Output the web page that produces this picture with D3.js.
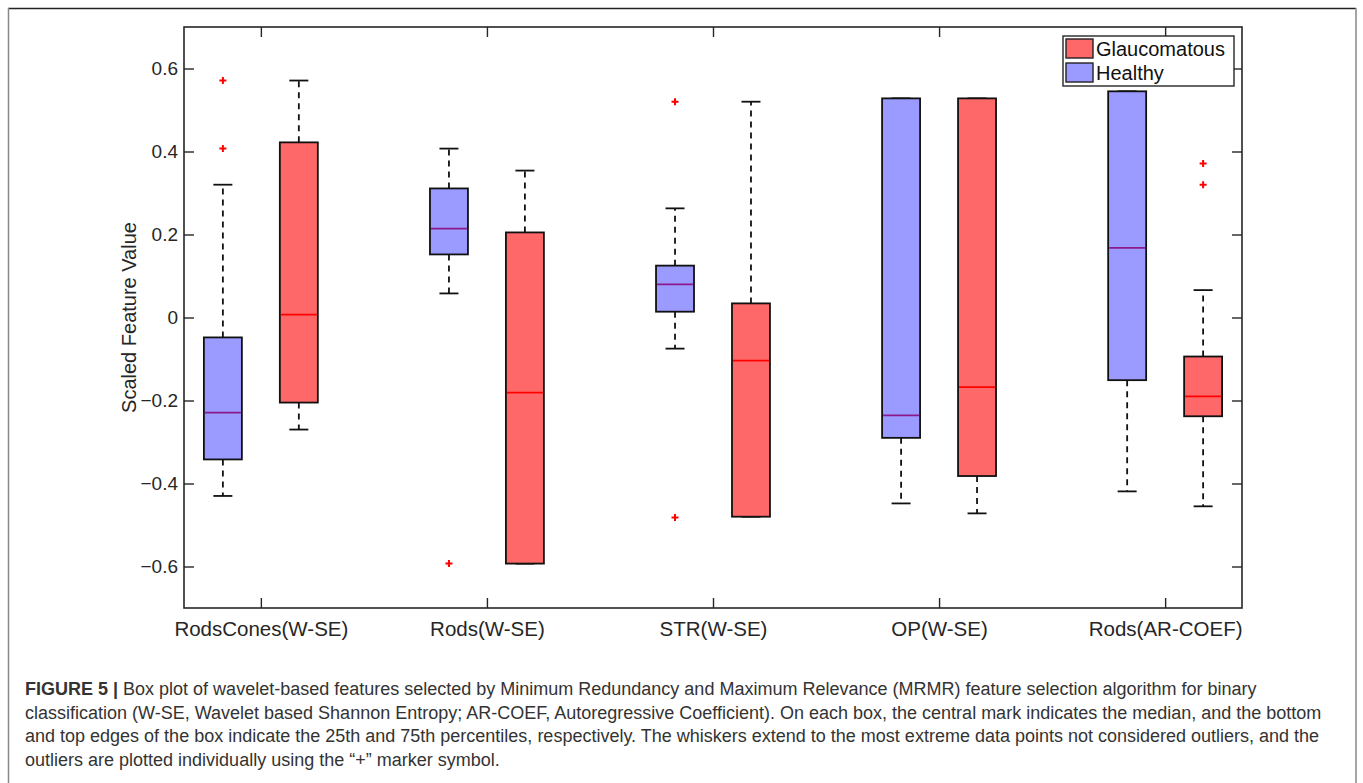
<!DOCTYPE html>
<html>
<meta charset="utf-8">
<head>
<script src="https://d3js.org/d3.v7.min.js"></script>
<style>
  body { margin: 0; background: #fff; }
  svg text { font-family: "Liberation Sans", Arial, sans-serif; }
</style>
</head>
<body>
<div id="chart"></div>
<script>

// categories and tick labels
var categories = ["RodsCones(W-SE)", "Rods(W-SE)", "STR(W-SE)", "OP(W-SE)", "Rods(AR-COEF)"];
var yTicks = [-0.6, -0.4, -0.2, 0, 0.2, 0.4, 0.6];

// Healthy box stats
var healthyLow    = [-0.43, 0.058, -0.075, -0.448, -0.419];
var healthyQ1     = [-0.342, 0.152, 0.014, -0.29, -0.151];
var healthyMedian = [-0.229, 0.214, 0.08, -0.236, 0.168];
var healthyQ3     = [-0.048, 0.311, 0.125, 0.528, 0.545];
var healthyHigh   = [0.32, 0.407, 0.263, 0.528, 0.545];
var healthyOut    = [[0.571, 0.407], [-0.593], [0.52, -0.482], [], []];

// Glaucomatous box stats
var glaucLow    = [-0.27, -0.593, -0.48, -0.472, -0.455];
var glaucQ1     = [-0.205, -0.593, -0.48, -0.382, -0.238];
var glaucMedian = [0.007, -0.181, -0.104, -0.168, -0.19];
var glaucQ3     = [0.422, 0.205, 0.034, 0.528, -0.094];
var glaucHigh   = [0.571, 0.354, 0.52, 0.528, 0.066];
var glaucOut    = [[], [], [], [], [0.371, 0.32]];

var W = 1363, H = 783;
var plot = {left: 184, right: 1242, top: 27, bottom: 608};
var axisColor = "#262626";

var svg = d3.select("#chart").append("svg")
    .attr("width", W).attr("height", H);

// outer frame of the figure
svg.append("line").attr("x1", 8).attr("x2", 1356).attr("y1", 8.5).attr("y2", 8.5)
    .attr("stroke", "#222").attr("stroke-width", 1.5);
svg.append("line").attr("x1", 8.5).attr("x2", 8.5).attr("y1", 8).attr("y2", H)
    .attr("stroke", "#888").attr("stroke-width", 1.5);
svg.append("line").attr("x1", 1356).attr("x2", 1356).attr("y1", 8).attr("y2", H)
    .attr("stroke", "#888").attr("stroke-width", 1.5);

var x = d3.scaleLinear().domain([0.66, 5.34]).range([plot.left, plot.right]);
var y = d3.scaleLinear().domain([-0.7, 0.7]).range([plot.bottom, plot.top]);

var offset = 0.168, boxW = 0.168;

// build box list from the arrays
var boxes = [];
categories.forEach(function(c, i) {
  boxes.push({pos: i + 1 - offset, low: healthyLow[i], q1: healthyQ1[i], med: healthyMedian[i],
              q3: healthyQ3[i], high: healthyHigh[i], out: healthyOut[i],
              fill: "#9b9bff", medColor: "#8b1a8b"});
  boxes.push({pos: i + 1 + offset, low: glaucLow[i], q1: glaucQ1[i], med: glaucMedian[i],
              q3: glaucQ3[i], high: glaucHigh[i], out: glaucOut[i],
              fill: "#ff6868", medColor: "#ff0000"});
});

var g = svg.append("g");
var bw = x(boxW) - x(0);
var capW = bw / 2;

var b = g.selectAll("g.box").data(boxes).enter().append("g").attr("class", "box");

// whiskers (dashed)
b.append("line")
    .attr("x1", function(d) { return x(d.pos); }).attr("x2", function(d) { return x(d.pos); })
    .attr("y1", function(d) { return y(d.q3); }).attr("y2", function(d) { return y(d.high); })
    .attr("stroke", "#111").attr("stroke-width", 1.8).attr("stroke-dasharray", "6,5");
b.append("line")
    .attr("x1", function(d) { return x(d.pos); }).attr("x2", function(d) { return x(d.pos); })
    .attr("y1", function(d) { return y(d.q1); }).attr("y2", function(d) { return y(d.low); })
    .attr("stroke", "#111").attr("stroke-width", 1.8).attr("stroke-dasharray", "6,5");
// caps
b.append("line")
    .attr("x1", function(d) { return x(d.pos) - capW / 2; }).attr("x2", function(d) { return x(d.pos) + capW / 2; })
    .attr("y1", function(d) { return y(d.high); }).attr("y2", function(d) { return y(d.high); })
    .attr("stroke", "#111").attr("stroke-width", 1.8);
b.append("line")
    .attr("x1", function(d) { return x(d.pos) - capW / 2; }).attr("x2", function(d) { return x(d.pos) + capW / 2; })
    .attr("y1", function(d) { return y(d.low); }).attr("y2", function(d) { return y(d.low); })
    .attr("stroke", "#111").attr("stroke-width", 1.8);

// box
b.append("rect")
    .attr("x", function(d) { return x(d.pos) - bw / 2; })
    .attr("y", function(d) { return y(d.q3); })
    .attr("width", bw)
    .attr("height", function(d) { return y(d.q1) - y(d.q3); })
    .attr("fill", function(d) { return d.fill; })
    .attr("stroke", "#111").attr("stroke-width", 1.8);

// median
b.append("line")
    .attr("x1", function(d) { return x(d.pos) - bw / 2 + 1; }).attr("x2", function(d) { return x(d.pos) + bw / 2 - 1; })
    .attr("y1", function(d) { return y(d.med); }).attr("y2", function(d) { return y(d.med); })
    .attr("stroke", function(d) { return d.medColor; }).attr("stroke-width", 1.8);

// outliers as "+"
b.selectAll("path.out").data(function(d) { return d.out.map(function(v) { return {pos: d.pos, v: v}; }); })
  .enter().append("path").attr("class", "out")
    .attr("d", function(d) {
      var cx = x(d.pos), cy = y(d.v), r = 3.5;
      return "M" + (cx - r) + "," + cy + "H" + (cx + r) + "M" + cx + "," + (cy - r) + "V" + (cy + r);
    })
    .attr("stroke", "#ff0000").attr("stroke-width", 2);

// axes (MATLAB style, ticks inside, box on)
var tickLen = 10;
var xTickVals = categories.map(function(c, i) { return i + 1; });

svg.append("g").attr("transform", "translate(" + plot.left + ",0)")
    .call(d3.axisLeft(y).tickValues(yTicks).tickSize(-tickLen).tickPadding(6)
      .tickFormat(function(d) { return d === 0 ? "0" : d3.format(".1f")(d); }))
    .call(function(a) {
      a.select(".domain").remove();
      a.selectAll("line").attr("stroke", axisColor).attr("stroke-width", 1.4);
      a.selectAll("text").attr("fill", axisColor).attr("font-size", 19);
    });
svg.append("g").attr("transform", "translate(" + plot.right + ",0)")
    .call(d3.axisRight(y).tickValues(yTicks).tickSize(-tickLen).tickFormat(""))
    .call(function(a) {
      a.select(".domain").remove();
      a.selectAll("line").attr("stroke", axisColor).attr("stroke-width", 1.4);
    });
svg.append("g").attr("transform", "translate(0," + plot.bottom + ")")
    .call(d3.axisBottom(x).tickValues(xTickVals).tickSize(-tickLen).tickPadding(13)
      .tickFormat(function(d) { return categories[d - 1]; }))
    .call(function(a) {
      a.select(".domain").remove();
      a.selectAll("line").attr("stroke", axisColor).attr("stroke-width", 1.4);
      a.selectAll("text").attr("fill", axisColor).attr("font-size", 20.5);
    });
svg.append("g").attr("transform", "translate(0," + plot.top + ")")
    .call(d3.axisTop(x).tickValues(xTickVals).tickSize(-tickLen).tickFormat(""))
    .call(function(a) {
      a.select(".domain").remove();
      a.selectAll("line").attr("stroke", axisColor).attr("stroke-width", 1.4);
    });
svg.append("rect")
    .attr("x", plot.left).attr("y", plot.top)
    .attr("width", plot.right - plot.left).attr("height", plot.bottom - plot.top)
    .attr("fill", "none").attr("stroke", axisColor).attr("stroke-width", 1.6);

// y label
svg.append("text")
    .attr("transform", "translate(136," + (plot.top + plot.bottom) / 2 + ") rotate(-90)")
    .attr("text-anchor", "middle")
    .attr("font-size", 20).attr("fill", axisColor)
    .text("Scaled Feature Value");

// legend
var legend = svg.append("g");
legend.append("rect").attr("x", 1063).attr("y", 36).attr("width", 171).attr("height", 50)
    .attr("fill", "#fff").attr("stroke", axisColor).attr("stroke-width", 1.4);
var legendItems = [{name: "Glaucomatous", fill: "#ff6868"}, {name: "Healthy", fill: "#9b9bff"}];
legendItems.forEach(function(it, i) {
  legend.append("rect").attr("x", 1066).attr("y", 39 + i * 24).attr("width", 27).attr("height", 19)
      .attr("fill", it.fill).attr("stroke", "#222").attr("stroke-width", 1.4);
  legend.append("text").attr("x", 1096).attr("y", 56 + i * 24)
      .attr("font-size", 20).attr("fill", "#111").text(it.name);
});

// caption
var captionLines = [
  [["FIGURE 5 | ", true], ["Box plot of wavelet-based features selected by Minimum Redundancy and Maximum Relevance (MRMR) feature selection algorithm for binary", false]],
  [["classification (W-SE, Wavelet based Shannon Entropy; AR-COEF, Autoregressive Coefficient). On each box, the central mark indicates the median, and the bottom", false]],
  [["and top edges of the box indicate the 25th and 75th percentiles, respectively. The whiskers extend to the most extreme data points not considered outliers, and the", false]],
  [["outliers are plotted individually using the \u201c+\u201d marker symbol.", false]]
];
var cap = svg.append("g");
captionLines.forEach(function(line, i) {
  var t = cap.append("text").attr("x", 25).attr("y", 695 + i * 23.5)
      .attr("font-size", 18).attr("fill", "#333");
  line.forEach(function(seg) {
    t.append("tspan").attr("font-weight", seg[1] ? "bold" : "normal").text(seg[0]);
  });
});

</script>
</body>
</html>
